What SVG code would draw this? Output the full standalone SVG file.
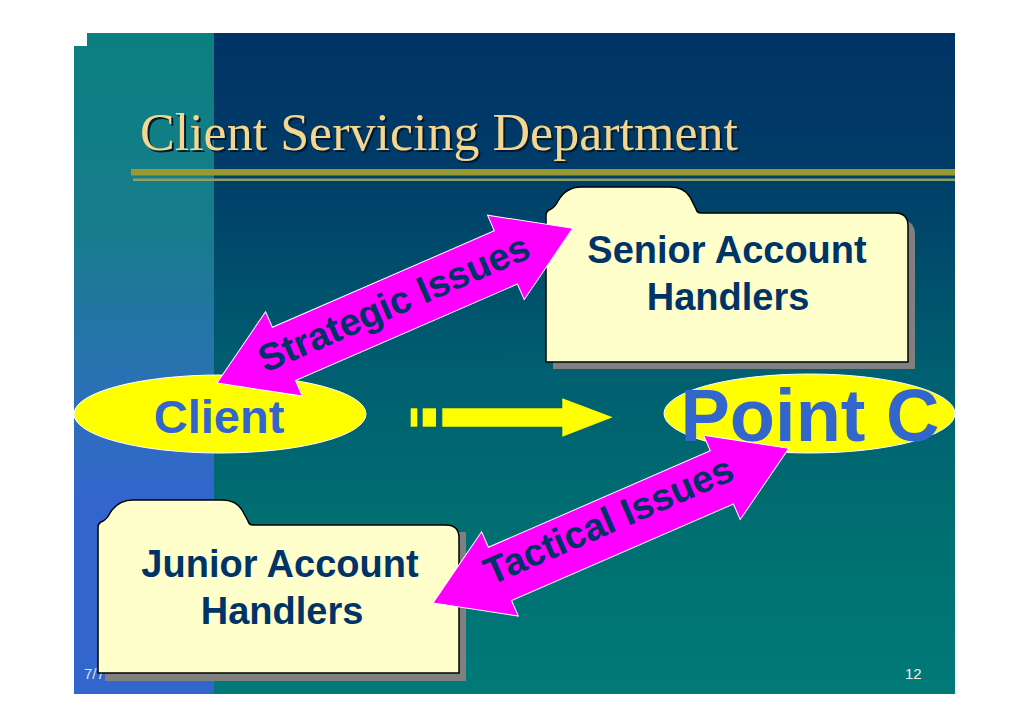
<svg xmlns="http://www.w3.org/2000/svg" width="1030" height="728" viewBox="0 0 1030 728">
  <defs>
    <linearGradient id="mainBg" x1="0" y1="0" x2="0" y2="1">
      <stop offset="0" stop-color="#003366"/>
      <stop offset="0.2" stop-color="#003C68"/>
      <stop offset="0.5" stop-color="#005E70"/>
      <stop offset="0.75" stop-color="#006F72"/>
      <stop offset="1" stop-color="#007A78"/>
    </linearGradient>
    <linearGradient id="stripBg" x1="0" y1="0" x2="0" y2="1">
      <stop offset="0" stop-color="#0A8080"/>
      <stop offset="0.3" stop-color="#187C8C"/>
      <stop offset="0.55" stop-color="#2C70B8"/>
      <stop offset="0.7" stop-color="#3366CC"/>
      <stop offset="1" stop-color="#3366CC"/>
    </linearGradient>
    <polygon id="dblArrow" points="0,0 73,-46 73,-29 315,-29 315,-46 388,0 315,46 315,29 73,29 73,46"/>
  </defs>
  <style>
    .folder { fill: #FFFFCC; stroke: #000000; stroke-width: 1.5; }
    .shadow { fill: #808080; }
    .ftext { font-family: "Liberation Sans", Arial, sans-serif; font-weight: bold; font-size: 38px; fill: #003366; text-anchor: middle; }
    .oval { fill: #FFFF00; stroke: #FFFFFF; stroke-width: 1; }
    .otext { font-family: "Liberation Sans", Arial, sans-serif; font-weight: bold; fill: #3366CC; text-anchor: middle; }
    .pink { fill: #FF00FF; stroke: #FFFFFF; stroke-width: 1; }
    .atext { font-family: "Liberation Sans", Arial, sans-serif; font-weight: bold; font-size: 38px; fill: #003366; text-anchor: middle; }
    .foot { font-family: "Liberation Sans", Arial, sans-serif; font-size: 15px; }
  </style>

  <rect x="0" y="0" width="1030" height="728" fill="#FFFFFF"/>

  <g id="background">
    <rect x="74" y="33" width="881" height="661" fill="url(#mainBg)"/>
    <rect x="74" y="33" width="140" height="661" fill="url(#stripBg)"/>
    <rect x="74" y="33" width="13" height="13" fill="#FFFFFF"/>
  </g>

  <g id="title">
    <text x="142" y="152" font-family="'Liberation Serif', 'Times New Roman', serif" font-size="52" fill="#001A33" textLength="598" lengthAdjust="spacingAndGlyphs">Client Servicing Department</text>
    <text x="140" y="150" font-family="'Liberation Serif', 'Times New Roman', serif" font-size="52" fill="#F5D68E" textLength="598" lengthAdjust="spacingAndGlyphs">Client Servicing Department</text>
    <rect x="131" y="169" width="824" height="6.5" fill="#999933"/>
    <rect x="133" y="178.5" width="822" height="2.5" fill="#8FA060"/>
  </g>

  <g id="footer">
    <text class="foot" x="84" y="679" fill="#D6E4F0">7/7</text>
    <text class="foot" x="905" y="679" fill="#E6F2F2">12</text>
  </g>

  <g id="senior">
    <path class="shadow" d="M553,369 L553,220 L560,220 L710,220 L902,220 Q915,221 915,235 L915,369 Z"/>
    <path class="folder" d="M546,362 L546,215 Q546,211 551,209 Q555,207 558,201 Q566,187 581,187 L670,187 Q684,187 690,197 L696,209 Q697,213 701,213 L895,213 Q908,213 908,226 L908,362 Z"/>
    <text class="ftext" x="727" y="263">Senior Account</text>
    <text class="ftext" x="728" y="310">Handlers</text>
  </g>

  <g id="junior">
    <path class="shadow" d="M105,681 L105,532 L466,532 L466,681 Z"/>
    <path class="folder" d="M98,673 L98,527 Q98,523 103,521 Q107,519 110,513 Q118,500 133,500 L222,500 Q236,500 242,510 L248,521 Q249,525 253,525 L446,525 Q459,525 459,538 L459,673 Z"/>
    <text class="ftext" x="280" y="577">Junior Account</text>
    <text class="ftext" x="282" y="624">Handlers</text>
  </g>

  <g id="client">
    <ellipse class="oval" cx="220" cy="414" rx="146" ry="39"/>
    <text class="otext" x="219" y="433" font-size="47">Client</text>
  </g>

  <g id="pointc">
    <ellipse class="oval" cx="809.5" cy="413.5" rx="145.5" ry="39.5"/>
    <text class="otext" x="810" y="441" font-size="74">Point C</text>
  </g>

  <g id="connectors">
    <g id="flow-arrow" fill="#FFFF00">
      <rect x="410.7" y="408.3" width="6.6" height="18.4"/>
      <rect x="422.7" y="408.3" width="13.3" height="18.4"/>
      <polygon points="442.3,408.3 562.3,408.3 562.3,398.3 612.7,417.3 562.3,436.7 562.3,426.7 442.3,426.7"/>
    </g>
    <g id="strategic" transform="translate(217,383) rotate(-23.5)">
      <use href="#dblArrow" class="pink"/>
      <text class="atext" x="194" y="10">Strategic Issues</text>
    </g>
    <g id="tactical" transform="translate(433,603) rotate(-23.5)">
      <use href="#dblArrow" class="pink"/>
      <text class="atext" x="194" y="7">Tactical Issues</text>
    </g>
  </g>
</svg>
